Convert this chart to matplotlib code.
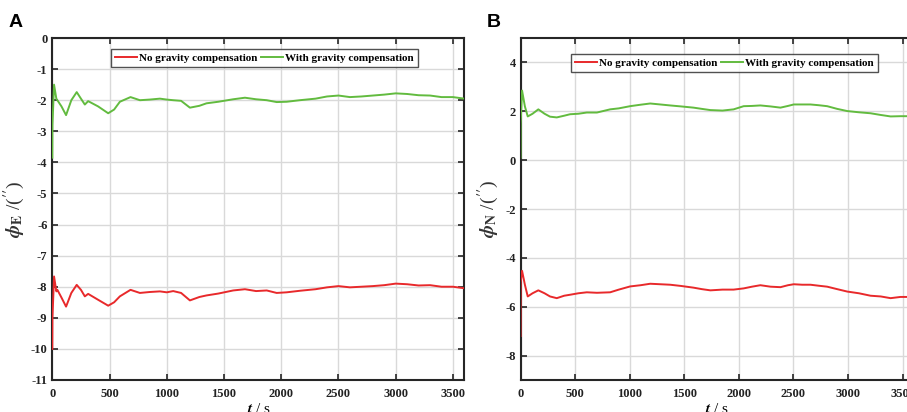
import matplotlib.pyplot as plt
import numpy as np

# === dados ===
t_a = [0, 1, 15, 35, 44, 80, 120, 166, 213, 250, 284, 313, 400, 488, 540, 590, 683,
       765, 850, 940, 1000, 1056, 1125, 1202, 1285, 1347, 1450, 1580, 1683, 1780, 1873,
       1960, 2047, 2163, 2300, 2400, 2500, 2600, 2700, 2800, 2900, 3000, 3100, 3200,
       3300, 3400, 3500, 3600]
a_sem = [-10.0, -9.0, -7.67, -8.15, -8.1, -8.35, -8.64, -8.2, -7.94, -8.1, -8.31, -8.23,
         -8.42, -8.61, -8.5, -8.31, -8.1, -8.2, -8.17, -8.15, -8.18, -8.14, -8.2, -8.44,
         -8.33, -8.28, -8.22, -8.12, -8.08, -8.14, -8.12, -8.2, -8.18, -8.13, -8.08,
         -8.02, -7.98, -8.02, -8.0, -7.98, -7.95, -7.9, -7.92, -7.96, -7.95, -8.0,
         -8.0, -8.05]
a_com = [-3.85, -2.8, -1.5, -1.95, -2.0, -2.2, -2.48, -2.0, -1.74, -1.95, -2.14, -2.03,
         -2.2, -2.42, -2.3, -2.05, -1.9, -2.0, -1.98, -1.95, -1.98, -2.0, -2.02, -2.24,
         -2.18, -2.1, -2.05, -1.97, -1.92, -1.97, -2.0, -2.06, -2.05, -2.0, -1.95,
         -1.88, -1.85, -1.9, -1.88, -1.85, -1.82, -1.78, -1.8, -1.84, -1.85, -1.9,
         -1.9, -1.95]

t_b = [0, 1, 14, 40, 66, 110, 163, 220, 270, 332, 400, 454, 530, 607, 700, 821, 900,
       1004, 1100, 1188, 1280, 1371, 1470, 1585, 1660, 1739, 1850, 1952, 2044, 2120,
       2197, 2290, 2381, 2450, 2503, 2580, 2656, 2730, 2809, 2900, 2993, 3100, 3206,
       3300, 3390, 3480, 3600]
b_sem = [-7.2, -5.0, -4.53, -5.1, -5.58, -5.45, -5.33, -5.45, -5.58, -5.65, -5.55, -5.51,
         -5.45, -5.41, -5.43, -5.41, -5.3, -5.17, -5.12, -5.06, -5.08, -5.1, -5.15, -5.22,
         -5.28, -5.33, -5.3, -5.3, -5.25, -5.18, -5.12, -5.18, -5.2, -5.12, -5.08,
         -5.1, -5.1, -5.14, -5.18, -5.28, -5.38, -5.45, -5.55, -5.58, -5.65, -5.6, -5.6]
b_com = [0.1, 1.5, 2.85, 2.2, 1.79, 1.9, 2.08, 1.9, 1.78, 1.75, 1.82, 1.88, 1.9, 1.95,
         1.95, 2.08, 2.12, 2.21, 2.27, 2.32, 2.28, 2.24, 2.2, 2.15, 2.1, 2.05, 2.03,
         2.08, 2.21, 2.22, 2.24, 2.2, 2.15, 2.22, 2.28, 2.28, 2.28, 2.25, 2.21, 2.1,
         2.01, 1.96, 1.92, 1.85, 1.79, 1.8, 1.8]

rotulos = ['No gravity compensation', 'With gravity compensation']
cor_sem = '#e8292b'
cor_com = '#62bb3f'

plt.rcParams['font.family'] = 'Liberation Serif'
plt.rcParams['font.weight'] = 'bold'
plt.rcParams['mathtext.fontset'] = 'stix'

fig = plt.figure(figsize=(9.07, 4.12), dpi=100)
ax_a = fig.add_axes([0.0577, 0.0777, 0.4543, 0.830])
ax_b = fig.add_axes([0.5739, 0.0777, 0.4333, 0.830])


def formata(ax, ylim, yticks, ylabel, leg_pos):
    ax.set_xlim(0, 3600)
    ax.set_ylim(*ylim)
    ax.set_xticks(np.arange(0, 3600, 500))
    ax.set_yticks(yticks)
    ax.set_yticklabels([f'{v:g}' for v in yticks])
    ax.grid(True, color='#d9d9d9', linewidth=1.0)
    ax.set_axisbelow(True)
    ax.tick_params(direction='in', top=True, right=True, length=4, width=1.2,
                   labelsize=9, colors='#262626', labelcolor='#222222')
    ax.tick_params(axis='x', pad=6)
    for s in ax.spines.values():
        s.set_color('#262626')
        s.set_linewidth(1.5)
    ax.set_xlabel(r'$\boldsymbol{t}$ / s', fontsize=11, labelpad=1)
    ax.set_ylabel(ylabel, fontsize=14, fontweight='normal', labelpad=3, color='#333333')
    leg = ax.legend(loc='upper center', bbox_to_anchor=leg_pos, ncol=2,
                    frameon=True, fancybox=False, handlelength=2.0,
                    handletextpad=0.2, columnspacing=0.3, borderpad=0.35,
                    borderaxespad=0, prop={'weight': 'bold', 'size': 8})
    leg.get_frame().set_edgecolor('#262626')
    leg.get_frame().set_linewidth(1.0)


ax_a.plot(t_a, a_sem, color=cor_sem, linewidth=1.4, label=rotulos[0], zorder=3)
ax_a.plot(t_a, a_com, color=cor_com, linewidth=1.4, label=rotulos[1], zorder=3)
formata(ax_a, (-11, 0), list(range(-11, 1)), r'$\phi_{\rm E}$ /($^{\prime\prime}$)',
        (0.514, 0.968))

ax_b.plot(t_b, b_sem, color=cor_sem, linewidth=1.4, label=rotulos[0], zorder=3)
ax_b.plot(t_b, b_com, color=cor_com, linewidth=1.4, label=rotulos[1], zorder=3)
formata(ax_b, (-9, 5), [-8, -6, -4, -2, 0, 2, 4], r'$\phi_{\rm N}$ /($^{\prime\prime}$)',
        (0.519, 0.953))

fig.text(0.009, 0.935, 'A', fontsize=14, fontweight='bold', family='Liberation Sans')
fig.text(0.537, 0.935, 'B', fontsize=14, fontweight='bold', family='Liberation Sans')

fig.savefig('out.png', dpi=100)
